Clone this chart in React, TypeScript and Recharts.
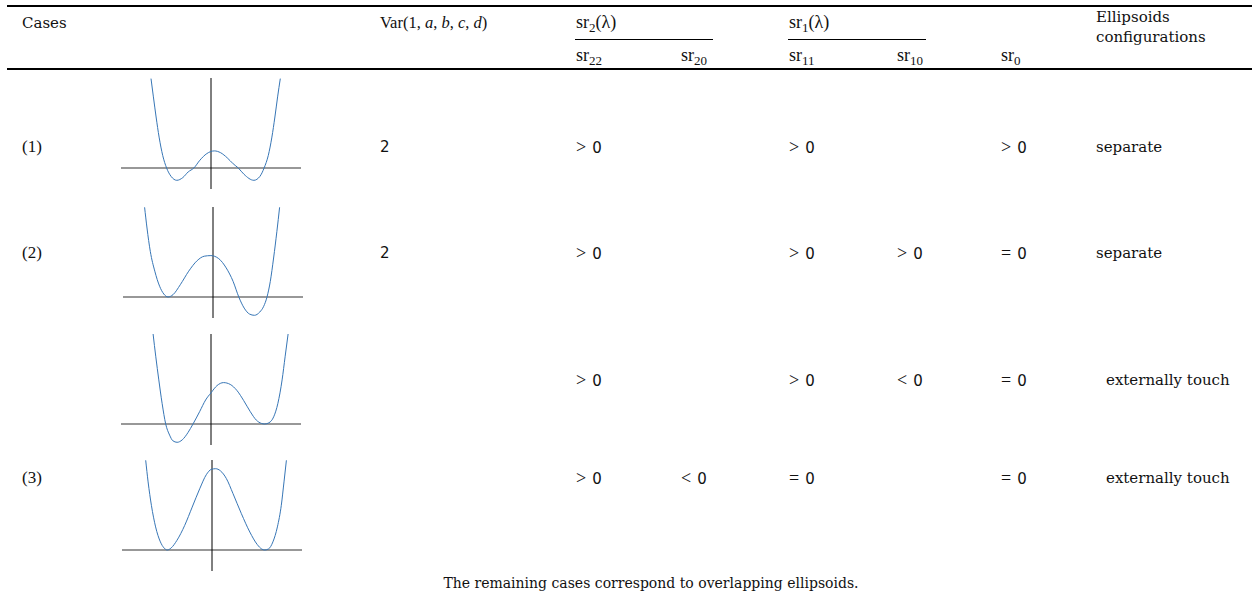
import React from "react";
import { Line, LineChart, ReferenceLine, XAxis, YAxis } from "recharts";

// sample points (x: root axis, y: value)
const curve1X = [-2.0, -1.92, -1.83, -1.73, -1.61, -1.48, -1.33, -1.14, -0.94, -0.76, -0.57, -0.37, -0.14, 0.11, 0.32, 0.54, 0.74, 0.91, 1.1, 1.43, 1.63, 1.77, 1.91, 2.03, 2.13, 2.22, 2.31];
const curve1Y = [2.98, 2.37, 1.7, 1.03, 0.42, 0, -0.28, -0.41, -0.32, -0.13, 0, 0.26, 0.48, 0.57, 0.51, 0.34, 0.14, 0, -0.21, -0.41, -0.28, 0, 0.42, 1.03, 1.7, 2.37, 2.98];

const curve2X = [-2.28, -2.2, -2.09, -1.94, -1.78, -1.64, -1.5, -1.33, -1.09, -0.81, -0.53, -0.29, -0.07, 0.19, 0.44, 0.67, 0.86, 1.04, 1.22, 1.38, 1.56, 1.69, 1.8, 1.91, 2.02, 2.13, 2.22];
const curve2Y = [2.99, 2.3, 1.52, 0.86, 0.36, 0.1, 0, 0.08, 0.41, 0.86, 1.21, 1.36, 1.38, 1.28, 0.97, 0.52, 0, -0.37, -0.57, -0.61, -0.5, -0.31, 0, 0.52, 1.3, 2.19, 2.99];

const curve3X = [-1.93, -1.84, -1.74, -1.63, -1.51, -1.38, -1.27, -1.13, -0.96, -0.77, -0.6, -0.38, -0.18, 0, 0.2, 0.42, 0.64, 0.87, 1.09, 1.31, 1.51, 1.68, 1.79, 1.93, 2.09, 2.23, 2.37, 2.47, 2.57];
const curve3Y = [3.0, 2.24, 1.47, 0.69, 0, -0.37, -0.56, -0.61, -0.53, -0.29, 0, 0.41, 0.8, 1.04, 1.28, 1.38, 1.32, 1.11, 0.78, 0.41, 0.13, 0.02, 0, 0.04, 0.24, 0.69, 1.47, 2.24, 3.0];

const curve4X = [-2.21, -2.13, -2.02, -1.88, -1.72, -1.6, -1.49, -1.36, -1.17, -0.91, -0.66, -0.41, -0.19, -0.02, 0.12, 0.28, 0.48, 0.7, 0.98, 1.26, 1.51, 1.66, 1.76, 1.89, 2.03, 2.18, 2.31, 2.4, 2.48];
const curve4Y = [2.99, 2.27, 1.49, 0.77, 0.27, 0.07, 0, 0.07, 0.32, 0.82, 1.43, 2.04, 2.51, 2.69, 2.71, 2.64, 2.38, 1.88, 1.21, 0.6, 0.18, 0.03, 0, 0.04, 0.27, 0.77, 1.49, 2.27, 2.99];

const caseLabels = ["(1)", "(2)", "", "(3)"];
const varCounts = ["2", "2", "", ""];
const sr22 = ["> 0", "> 0", "> 0", "> 0"];
const sr20 = ["", "", "", "< 0"];
const sr11 = ["> 0", "> 0", "> 0", "= 0"];
const sr10 = ["", "> 0", "< 0", ""];
const sr0 = ["> 0", "= 0", "= 0", "= 0"];
const configs = ["separate", "separate", "externally touch", "externally touch"];

const rowY = [147, 253, 380, 478];
const configX = [1096, 1096, 1106, 1106];
const plotPos = [
  { left: 121, top: 78 },
  { left: 122.7, top: 207.3 },
  { left: 121.3, top: 334 },
  { left: 122.3, top: 459.7 },
];

const curves = [
  [curve1X, curve1Y],
  [curve2X, curve2Y],
  [curve3X, curve3Y],
  [curve4X, curve4Y],
].map(([xs, ys]) => xs.map((x, i) => ({ x, y: ys[i] })));

const TEXT = "'DejaVu Serif', serif";
const MATH = "'Liberation Serif', serif";
const NUM = "'DejaVu Sans', sans-serif";

function Cell({ x, y, children, font = TEXT, size = 14 }: { x: number; y: number; children: React.ReactNode; font?: string; size?: number }) {
  return (
    <div
      style={{
        position: "absolute",
        left: x,
        top: y - 11,
        height: 22,
        lineHeight: "22px",
        fontFamily: font,
        fontSize: size,
        color: "#111",
        whiteSpace: "nowrap",
      }}
    >
      {children}
    </div>
  );
}

function Sr({ sub, arg }: { sub: string; arg?: boolean }) {
  return (
    <span style={{ fontFamily: MATH, fontSize: 18 }}>
      sr<sub style={{ fontSize: 13, verticalAlign: "-4px" }}>{sub}</sub>
      {arg ? <span>(λ)</span> : null}
    </span>
  );
}

function Rel({ v }: { v: string }) {
  if (!v) return null;
  return (
    <span>
      <span style={{ fontFamily: MATH, fontSize: 18 }}>{v[0]}</span>
      <span style={{ fontFamily: NUM, fontSize: 15, marginLeft: 6 }}>{v.slice(2)}</span>
    </span>
  );
}

function Sketch({ data }: { data: { x: number; y: number }[] }) {
  return (
    <LineChart width={180} height={111} data={data} margin={{ top: 0, right: 0, bottom: 0, left: 0 }}>
      <XAxis type="number" dataKey="x" domain={[-3, 3]} allowDataOverflow hide />
      <YAxis type="number" domain={[-0.7, 3]} allowDataOverflow hide />
      <ReferenceLine y={0} stroke="#333" strokeWidth={1.2} />
      <ReferenceLine x={0} stroke="#000" strokeWidth={1} />
      <Line
        type="monotone"
        dataKey="y"
        stroke="#3776b6"
        strokeWidth={1}
        dot={false}
        isAnimationActive={false}
      />
    </LineChart>
  );
}

export default function App() {
  return (
    <div style={{ position: "absolute", left: 0, top: 0, width: 1258, height: 596, background: "#fff", overflow: "hidden" }}>
      <div style={{ position: "absolute", left: 7, top: 5, width: 1245, height: 2, background: "#000" }} />
      <div style={{ position: "absolute", left: 7, top: 68, width: 1245, height: 2, background: "#000" }} />
      <div style={{ position: "absolute", left: 575, top: 38.5, width: 138, height: 1.5, background: "#000" }} />
      <div style={{ position: "absolute", left: 788, top: 38.5, width: 138, height: 1.5, background: "#000" }} />

      <Cell x={22} y={23} size={15}>Cases</Cell>
      <Cell x={380} y={23}>
        <span style={{ fontFamily: MATH, fontSize: 16.5 }}>
          Var(1, <i>a</i>, <i>b</i>, <i>c</i>, <i>d</i>)
        </span>
      </Cell>
      <Cell x={576} y={22}><Sr sub="2" arg /></Cell>
      <Cell x={789} y={22}><Sr sub="1" arg /></Cell>
      <Cell x={576} y={55}><Sr sub="22" /></Cell>
      <Cell x={681} y={55}><Sr sub="20" /></Cell>
      <Cell x={789} y={55}><Sr sub="11" /></Cell>
      <Cell x={897} y={55}><Sr sub="10" /></Cell>
      <Cell x={1001} y={55}><Sr sub="0" /></Cell>
      <Cell x={1096} y={17} size={15}>Ellipsoids</Cell>
      <Cell x={1096} y={37} size={15}>configurations</Cell>

      {rowY.map((y, i) => (
        <React.Fragment key={i}>
          <Cell x={22} y={y} font={MATH} size={17}>{caseLabels[i]}</Cell>
          <Cell x={380} y={y} font={NUM} size={15}>{varCounts[i]}</Cell>
          <Cell x={576} y={y}><Rel v={sr22[i]} /></Cell>
          <Cell x={681} y={y}><Rel v={sr20[i]} /></Cell>
          <Cell x={789} y={y}><Rel v={sr11[i]} /></Cell>
          <Cell x={897} y={y}><Rel v={sr10[i]} /></Cell>
          <Cell x={1001} y={y}><Rel v={sr0[i]} /></Cell>
          <Cell x={configX[i]} y={y} size={15}>{configs[i]}</Cell>
        </React.Fragment>
      ))}

      {curves.map((data, i) => (
        <div key={i} style={{ position: "absolute", left: plotPos[i].left, top: plotPos[i].top }}>
          <Sketch data={data} />
        </div>
      ))}

      <div
        style={{
          position: "absolute",
          left: 0,
          width: 1302,
          top: 572,
          height: 22,
          lineHeight: "22px",
          textAlign: "center",
          fontFamily: TEXT,
          fontSize: 14,
          color: "#111",
        }}
      >
        The remaining cases correspond to overlapping ellipsoids.
      </div>
    </div>
  );
}
